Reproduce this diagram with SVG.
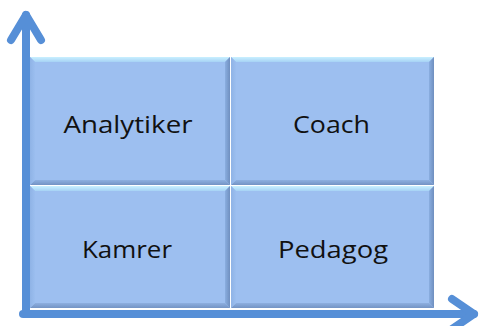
<svg xmlns="http://www.w3.org/2000/svg" width="481" height="326" viewBox="0 0 481 326">
  <defs>
    <linearGradient id="topEdge" x1="0" y1="0" x2="0" y2="1">
      <stop offset="0" stop-color="#c9f0ff"/>
      <stop offset="1" stop-color="#a6d2f5"/>
    </linearGradient>
    <linearGradient id="rightEdge" x1="0" y1="0" x2="1" y2="0">
      <stop offset="0" stop-color="#8aaee0"/>
      <stop offset="1" stop-color="#6f8fbf"/>
    </linearGradient>
    <linearGradient id="bottomEdge" x1="0" y1="0" x2="0" y2="1">
      <stop offset="0" stop-color="#8dafe0"/>
      <stop offset="1" stop-color="#7393c4"/>
    </linearGradient>
    <linearGradient id="leftEdge" x1="0" y1="0" x2="1" y2="0">
      <stop offset="0" stop-color="#8fb3e6"/>
      <stop offset="1" stop-color="#9bbeef"/>
    </linearGradient>
  </defs>
  <style>
    .face { fill: #9dbff0; }
    .lbl { font-family: "Open Sans", "Liberation Sans", sans-serif; font-size: 24px; fill: #111; text-anchor: middle; }
    .axis { stroke: #568fd7; stroke-width: 8; fill: none; stroke-linecap: round; stroke-linejoin: round; }
  </style>
  <rect width="481" height="326" fill="#ffffff"/>

  <!-- quadrant cells: bevelled blue tiles -->
  <g id="analytiker">
    <rect class="face" x="30" y="57" width="200" height="128"/>
    <polygon points="30,57 230,57 225,62 35,62" fill="url(#topEdge)"/>
    <polygon points="230,57 230,185 225,180 225,62" fill="url(#rightEdge)"/>
    <polygon points="30,185 230,185 225,180 35,180" fill="url(#bottomEdge)"/>
    <polygon points="30,57 35,62 35,180 30,185" fill="url(#leftEdge)"/>
    <text class="lbl" x="128" y="133" textLength="129" lengthAdjust="spacingAndGlyphs">Analytiker</text>
  </g>
  <g id="coach">
    <rect class="face" x="231" y="57" width="203" height="128"/>
    <polygon points="231,57 434,57 429,62 236,62" fill="url(#topEdge)"/>
    <polygon points="434,57 434,185 429,180 429,62" fill="url(#rightEdge)"/>
    <polygon points="231,185 434,185 429,180 236,180" fill="url(#bottomEdge)"/>
    <polygon points="231,57 236,62 236,180 231,185" fill="url(#leftEdge)"/>
    <text class="lbl" x="331.5" y="133" textLength="77" lengthAdjust="spacingAndGlyphs">Coach</text>
  </g>
  <g id="kamrer">
    <rect class="face" x="30" y="186" width="200" height="122"/>
    <polygon points="30,186 230,186 225,191 35,191" fill="url(#topEdge)"/>
    <polygon points="230,186 230,308 225,303 225,191" fill="url(#rightEdge)"/>
    <polygon points="30,308 230,308 225,303 35,303" fill="url(#bottomEdge)"/>
    <polygon points="30,186 35,191 35,303 30,308" fill="url(#leftEdge)"/>
    <text class="lbl" x="127" y="258" textLength="90" lengthAdjust="spacingAndGlyphs">Kamrer</text>
  </g>
  <g id="pedagog">
    <rect class="face" x="231" y="186" width="203" height="122"/>
    <polygon points="231,186 434,186 429,191 236,191" fill="url(#topEdge)"/>
    <polygon points="434,186 434,308 429,303 429,191" fill="url(#rightEdge)"/>
    <polygon points="231,308 434,308 429,303 236,303" fill="url(#bottomEdge)"/>
    <polygon points="231,186 236,191 236,303 231,308" fill="url(#leftEdge)"/>
    <text class="lbl" x="333" y="258" textLength="110" lengthAdjust="spacingAndGlyphs">Pedagog</text>
  </g>

  <!-- axes -->
  <g id="connectors">
    <path class="axis" d="M26,314 V15"/>
    <path class="axis" d="M11,40 L26,15 L41,40"/>
    <path class="axis" d="M23,314 H474"/>
    <path class="axis" d="M452,299 L474,314 L452,329"/>
  </g>
</svg>
